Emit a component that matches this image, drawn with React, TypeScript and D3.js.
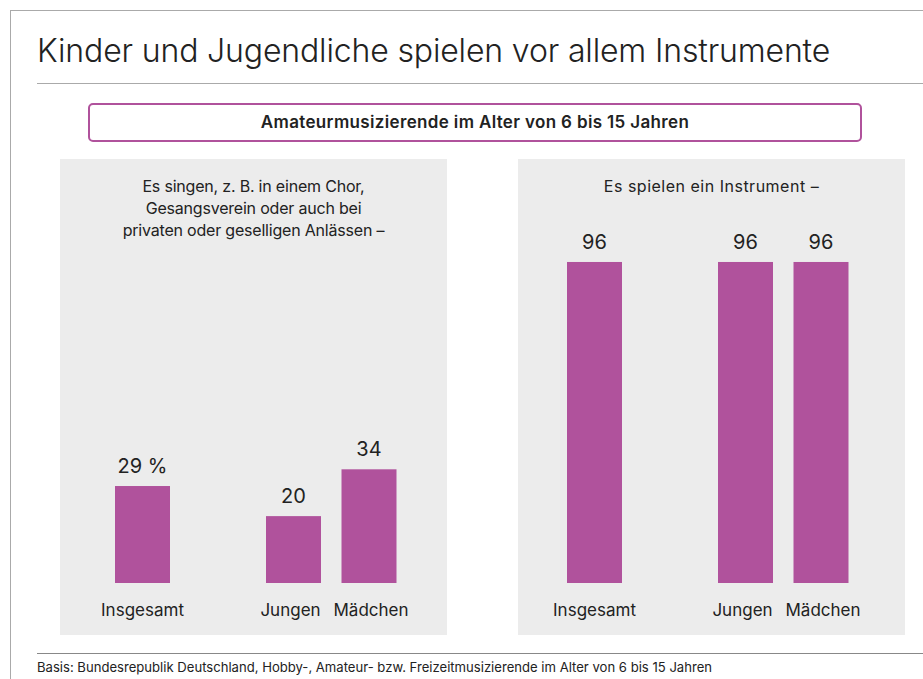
import React from "react";
import * as d3 from "d3";

const categories = ["Insgesamt", "Jungen", "Mädchen"];
const singenValues = [29, 20, 34];
const instrumentValues = [96, 96, 96];
const singenLabels = ["29 %", "20", "34"];
const instrumentLabels = ["96", "96", "96"];
const title = "Kinder und Jugendliche spielen vor allem Instrumente";
const boxTitle = "Amateurmusizierende im Alter von 6 bis 15 Jahren";
const singenSubtitle = ["Es singen, z. B. in einem Chor,", "Gesangsverein oder auch bei", "privaten oder geselligen Anlässen –"];
const instrumentSubtitle = ["Es spielen ein Instrument –"];
const footer = "Basis: Bundesrepublik Deutschland, Hobby-, Amateur- bzw. Freizeitmusizierende im Alter von 6 bis 15 Jahren";

const W = 923;
const H = 679;
const FONT = "Inter, 'Noto Sans', sans-serif";
const BAR = "#b0529c";
const TEXT = "#222";

const y = d3.scaleLinear().domain([0, 100]).range([583, 583 - 334.4]);

function Panel({ px, barStart, subtitle, values, labels, subSpacing }: { px: number; barStart: number; subtitle: string[]; values: number[]; labels: string[]; subSpacing: number }) {
  const slots = ["Insgesamt", "_gap", "Jungen", "Mädchen"];
  const step = 75.5;
  const bw = 55;
  const x = d3.scaleBand().domain(slots).range([barStart, barStart + 3 * step + bw]).paddingInner(1 - bw / step).paddingOuter(0);
  const pw = 387;
  const labelShift = [0, -3, 2];
  return (
    <g>
      <rect x={px} y={159} width={pw} height={476} fill="#ececec" />
      {subtitle.map((s, i) => (
        <text key={i} x={px + pw / 2} y={192 + i * 22} textAnchor="middle" fontSize={16} letterSpacing={subSpacing} fill={TEXT}>{s}</text>
      ))}
      {categories.map((c, i) => {
        const bx = x(c)!;
        const w = x.bandwidth();
        return (
          <g key={c}>
            <rect x={bx} y={y(values[i])} width={w} height={y(0) - y(values[i])} fill={BAR} />
            <text x={bx + w / 2} y={y(values[i]) - 13} textAnchor="middle" fontSize={20} fill={TEXT}>{labels[i]}</text>
            <text x={bx + w / 2 + labelShift[i]} y={616} textAnchor="middle" fontSize={17} fill={TEXT}>{c}</text>
          </g>
        );
      })}
    </g>
  );
}

export default function App() {
  return (
    <svg width={W} height={H} style={{ position: "absolute", left: 0, top: 0, fontFamily: FONT }}>
      <rect x={0} y={0} width={W} height={H} fill="#fff" />
      <line x1={10} y1={10.5} x2={W} y2={10.5} stroke="#aaa" />
      <line x1={10.5} y1={10} x2={10.5} y2={H} stroke="#aaa" />
      <text x={37} y={62} fontSize={32} fill={TEXT} fontWeight={300} letterSpacing={-0.15}>{title}</text>
      <line x1={37} y1={83.5} x2={W} y2={83.5} stroke="#aaa" />
      <rect x={89} y={104} width={772} height={37} rx={4} fill="#fff" stroke={BAR} strokeWidth={2} />
      <text x={475} y={128} textAnchor="middle" fontSize={17} fontWeight={600} letterSpacing={0.35} fill={TEXT}>{boxTitle}</text>
      <Panel px={60} barStart={115} subtitle={singenSubtitle} values={singenValues} labels={singenLabels} subSpacing={-0.2} />
      <Panel px={518} barStart={567} subtitle={instrumentSubtitle} values={instrumentValues} labels={instrumentLabels} subSpacing={0.5} />
      <line x1={37} y1={653.5} x2={W} y2={653.5} stroke="#888" />
      <text x={37} y={672} fontSize={13.1} fill={TEXT}>{footer}</text>
    </svg>
  );
}
